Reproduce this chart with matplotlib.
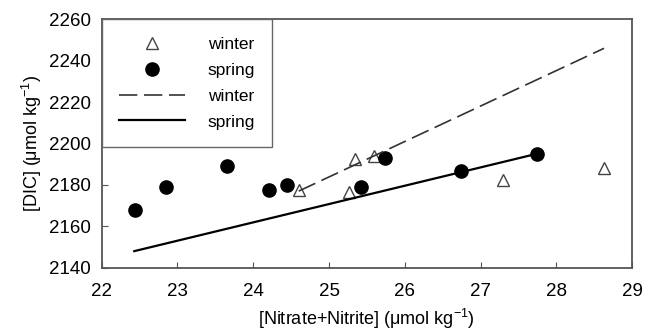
#!python3
# plot DIC against nitrate+nitrite for winter and spring samples

import matplotlib
matplotlib.use("Agg")
import matplotlib.pyplot as plt

# winter samples (open triangles)
winterNitrate = [24.60, 25.26, 25.34, 25.59, 27.29, 28.63]
winterDIC = [2177.5, 2176.5, 2192.5, 2194.0, 2182.5, 2188.0]

# spring samples (filled circles)
springNitrate = [22.44, 22.85, 23.65, 24.21, 24.44, 25.42, 25.74, 26.74, 27.74]
springDIC = [2168.0, 2178.8, 2189.0, 2177.6, 2180.0, 2178.8, 2193.0, 2186.5, 2195.0]

# regression line end points
winterFitX = [24.60, 28.63]
winterFitY = [2177.0, 2246.0]
springFitX = [22.43, 27.74]
springFitY = [2148.0, 2195.0]

xTicks = [22, 23, 24, 25, 26, 27, 28, 29]
yTicks = [2140, 2160, 2180, 2200, 2220, 2240, 2260]

plt.rcParams['font.family'] = ['Liberation Sans', 'DejaVu Sans']
plt.rcParams['mathtext.fontset'] = 'custom'
plt.rcParams['mathtext.rm'] = 'Liberation Sans'
plt.rcParams['mathtext.it'] = 'Liberation Sans:italic'

fig = plt.figure(figsize=(6.45, 3.3), dpi=100)
ax = fig.add_axes([0.1577, 0.1888, 0.8223, 0.7527])

edge = '#555555'
ax.plot(winterNitrate, winterDIC, linestyle='none', marker='^', markersize=8,
        markerfacecolor='white', markeredgecolor='#444444', markeredgewidth=1.0,
        label='winter')
ax.plot(springNitrate, springDIC, linestyle='none', marker='o', markersize=9.5,
        color='black', label='spring')
ax.plot(winterFitX, winterFitY, color='#333333', linewidth=1.2,
        linestyle=(0, (11, 4)), label='winter')
ax.plot(springFitX, springFitY, color='black', linewidth=1.6, label='spring')

ax.set_xlim(22, 29)
ax.set_ylim(2140, 2260)
ax.set_xticks(xTicks)
ax.set_yticks(yTicks)
ax.tick_params(axis='both', which='major', direction='in', length=4,
               width=0.8, color=edge, labelsize=13.5)
ax.tick_params(axis='x', pad=11)
ax.tick_params(axis='y', pad=8)
for spine in ax.spines.values():
    spine.set_color(edge)
    spine.set_linewidth(1.3)

ax.set_xlabel('[Nitrate+Nitrite] (\u03bcmol kg$^{\\mathrm{-1}}$)', fontsize=13,
              labelpad=5)
ax.set_ylabel('[DIC] (\u03bcmol kg$^{\\mathrm{-1}}$)', fontsize=13, labelpad=3)

leg = ax.legend(loc='upper left', fontsize=12.5, borderaxespad=0,
                handlelength=3.8, handletextpad=1.3, labelspacing=0.62,
                borderpad=1.0, fancybox=False, framealpha=1)
leg.get_frame().set_edgecolor('#666666')
leg.get_frame().set_linewidth(1.0)

fig.savefig('out.png', dpi=100)
